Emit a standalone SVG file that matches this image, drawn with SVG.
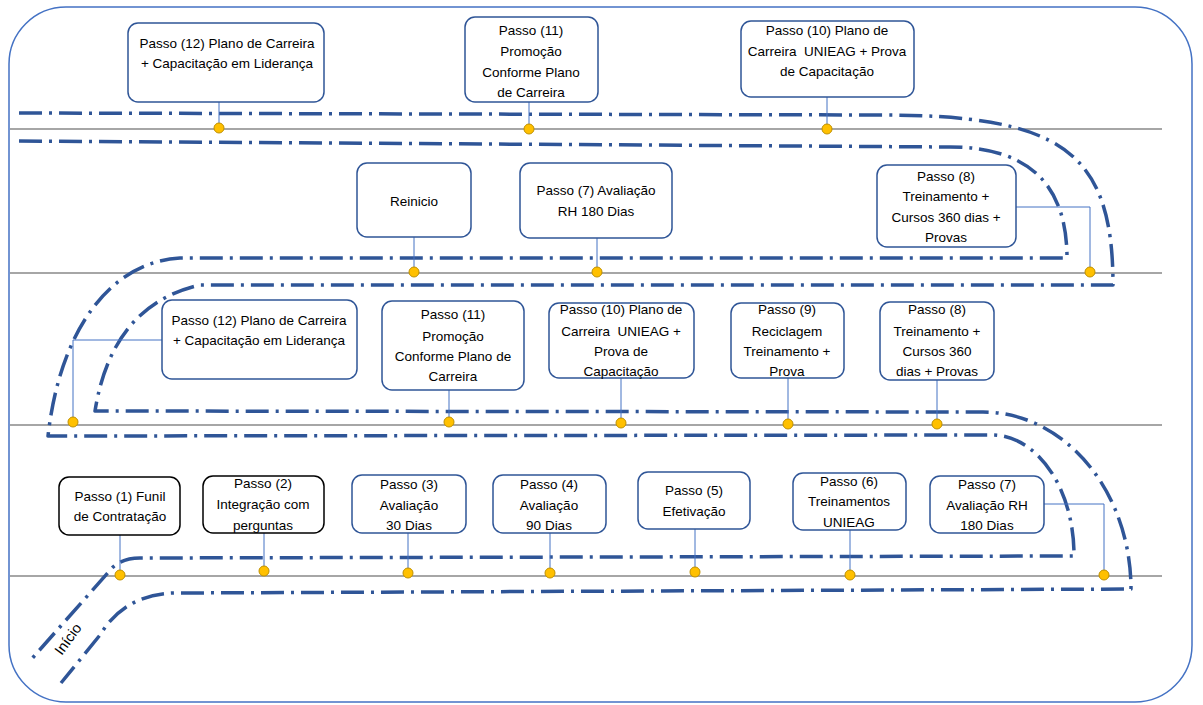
<svg xmlns="http://www.w3.org/2000/svg" width="1203" height="705" viewBox="0 0 1203 705">
<style>
.frame{fill:#fff;stroke:#4472C4;stroke-width:1.5}
.road{stroke:#A6A6A6;stroke-width:2;fill:none}
.dash{fill:none;stroke:#2F5597;stroke-width:3.5;stroke-dasharray:23 7 3 7;stroke-linejoin:round}
.con{fill:none;stroke:#4472C4;stroke-width:1}
.dot{fill:#FFC000;stroke:#BF9000;stroke-width:1}
.box{fill:#fff;stroke:#2F5597;stroke-width:1.5}
.boxk{fill:#fff;stroke:#000;stroke-width:1.5}
text{font-family:"Liberation Sans",Arial,sans-serif;font-size:13.5px;fill:#000;text-anchor:middle}
</style>
<rect class="frame" x="9" y="7" width="1183" height="695" rx="57" ry="57"/>
<g id="roads">
<line class="road" x1="10" y1="129" x2="1162" y2="129"/>
<line class="road" x1="10" y1="273" x2="1162" y2="273"/>
<line class="road" x1="10" y1="425" x2="1162" y2="425"/>
<line class="road" x1="10" y1="576" x2="1162" y2="576"/>
</g>
<g id="connectors">
<path class="dash" d="M19,113 L880,115 C1060,115 1113,150 1113,285 L200,285 Q112,305 95,411 L983,412 A148,177 0 0 1 1131,589 L176,593 C140,593 115,610 100,635 L61,683"/>
<path class="dash" d="M19,141 L950,147 Q1067,147 1067,258 L180,258 C110,262 60,330 48,436 L990,435 A82,120 0 0 1 1074,556 L140,558 Q122,558 112,568 L29,662"/>
<line class="con" x1="219" y1="102" x2="219" y2="128"/>
<line class="con" x1="529" y1="102" x2="529" y2="129"/>
<line class="con" x1="827" y1="97" x2="827" y2="129"/>
<line class="con" x1="414" y1="237" x2="414" y2="272"/>
<line class="con" x1="597" y1="238" x2="597" y2="272"/>
<polyline class="con" points="1016,207 1090,207 1090,272"/>
<polyline class="con" points="162,340 73,340 73,422"/>
<line class="con" x1="449" y1="390" x2="449" y2="422"/>
<line class="con" x1="621" y1="378" x2="621" y2="423"/>
<line class="con" x1="788" y1="378" x2="788" y2="424"/>
<line class="con" x1="937" y1="380" x2="937" y2="424"/>
<line class="con" x1="120" y1="535" x2="120" y2="575"/>
<line class="con" x1="264" y1="533" x2="264" y2="571"/>
<line class="con" x1="408" y1="533" x2="408" y2="573"/>
<line class="con" x1="550" y1="533" x2="550" y2="573"/>
<line class="con" x1="695" y1="529" x2="695" y2="572"/>
<line class="con" x1="850" y1="530" x2="850" y2="575"/>
<polyline class="con" points="1044,504 1104,504 1104,575"/>
<circle class="dot" cx="219" cy="128" r="5"/>
<circle class="dot" cx="529" cy="129" r="5"/>
<circle class="dot" cx="827" cy="129" r="5"/>
<circle class="dot" cx="414" cy="272" r="5"/>
<circle class="dot" cx="597" cy="272" r="5"/>
<circle class="dot" cx="1090" cy="272" r="5"/>
<circle class="dot" cx="73" cy="422" r="5"/>
<circle class="dot" cx="449" cy="422" r="5"/>
<circle class="dot" cx="621" cy="423" r="5"/>
<circle class="dot" cx="788" cy="424" r="5"/>
<circle class="dot" cx="937" cy="424" r="5"/>
<circle class="dot" cx="120" cy="575" r="5"/>
<circle class="dot" cx="264" cy="571" r="5"/>
<circle class="dot" cx="408" cy="573" r="5"/>
<circle class="dot" cx="550" cy="573" r="5"/>
<circle class="dot" cx="695" cy="572" r="5"/>
<circle class="dot" cx="850" cy="575" r="5"/>
<circle class="dot" cx="1104" cy="575" r="5"/>
</g>
<g id="n12a"><rect class="box" x="128" y="23" width="196" height="79" rx="10"/>
<text x="227" y="48">Passo (12) Plano de Carreira</text><text x="227" y="68">+ Capacitação em Liderança</text></g>
<g id="n11a"><rect class="box" x="465" y="17" width="133" height="85" rx="10"/>
<text x="531" y="35">Passo (11)</text><text x="531" y="56">Promoção</text><text x="531" y="77">Conforme Plano</text><text x="531" y="97">de Carreira</text></g>
<g id="n10a"><rect class="box" x="741" y="21" width="173" height="76" rx="10"/>
<text x="827" y="35">Passo (10) Plano de</text><text x="827" y="56" xml:space="preserve">Carreira  UNIEAG + Prova</text><text x="827" y="76">de Capacitação</text></g>
<g id="reinicio"><rect class="box" x="357" y="163" width="114" height="74" rx="10"/>
<text x="414" y="206">Reinicio</text></g>
<g id="n7b"><rect class="box" x="520" y="163" width="152" height="75" rx="10"/>
<text x="596" y="195">Passo (7) Avaliação</text><text x="596" y="216">RH 180 Dias</text></g>
<g id="n8b"><rect class="box" x="877" y="165" width="139" height="82" rx="10"/>
<text x="946" y="181">Passo (8)</text><text x="946" y="201">Treinamento +</text><text x="946" y="222">Cursos 360 dias +</text><text x="946" y="242">Provas</text></g>
<g id="n12b"><rect class="box" x="162" y="300" width="195" height="79" rx="10"/>
<text x="259" y="325">Passo (12) Plano de Carreira</text><text x="259" y="345">+ Capacitação em Liderança</text></g>
<g id="n11b"><rect class="box" x="382" y="301" width="142" height="89" rx="10"/>
<text x="453" y="319">Passo (11)</text><text x="453" y="341">Promoção</text><text x="453" y="361">Conforme Plano de</text><text x="453" y="381">Carreira</text></g>
<g id="n10b"><rect class="box" x="549" y="303" width="145" height="75" rx="10"/>
<text x="621" y="314">Passo (10) Plano de</text><text x="621" y="336" xml:space="preserve">Carreira  UNIEAG +</text><text x="621" y="356">Prova de</text><text x="621" y="376">Capacitação</text></g>
<g id="n9"><rect class="box" x="731" y="303" width="113" height="75" rx="10"/>
<text x="787" y="314">Passo (9)</text><text x="787" y="336">Reciclagem</text><text x="787" y="356">Treinamento +</text><text x="787" y="376">Prova</text></g>
<g id="n8c"><rect class="box" x="880" y="302" width="114" height="78" rx="10"/>
<text x="937" y="314">Passo (8)</text><text x="937" y="336">Treinamento +</text><text x="937" y="356">Cursos 360</text><text x="937" y="376">dias + Provas</text></g>
<g id="n1"><rect class="boxk" x="59" y="477" width="121" height="58" rx="10"/>
<text x="120" y="501">Passo (1) Funil</text><text x="120" y="521">de Contratação</text></g>
<g id="n2"><rect class="boxk" x="203" y="476" width="121" height="57" rx="10"/>
<text x="263" y="488">Passo (2)</text><text x="263" y="509">Integração com</text><text x="263" y="530">perguntas</text></g>
<g id="n3"><rect class="box" x="352" y="475" width="114" height="58" rx="10"/>
<text x="409" y="489">Passo (3)</text><text x="409" y="510">Avaliação</text><text x="409" y="530">30 Dias</text></g>
<g id="n4"><rect class="box" x="493" y="475" width="113" height="58" rx="10"/>
<text x="549" y="489">Passo (4)</text><text x="549" y="510">Avaliação</text><text x="549" y="530">90 Dias</text></g>
<g id="n5"><rect class="box" x="638" y="472" width="112" height="57" rx="10"/>
<text x="694" y="495">Passo (5)</text><text x="694" y="516">Efetivação</text></g>
<g id="n6"><rect class="box" x="793" y="473" width="113" height="57" rx="10"/>
<text x="849" y="486">Passo (6)</text><text x="849" y="506">Treinamentos</text><text x="849" y="527">UNIEAG</text></g>
<g id="n7c"><rect class="box" x="930" y="476" width="114" height="57" rx="10"/>
<text x="987" y="489">Passo (7)</text><text x="987" y="510">Avaliação RH</text><text x="987" y="530">180 Dias</text></g>
<g id="inicio"><text x="0" y="0" transform="translate(72,642) rotate(-54)" style="font-size:14.5px">Início</text></g>
</svg>
